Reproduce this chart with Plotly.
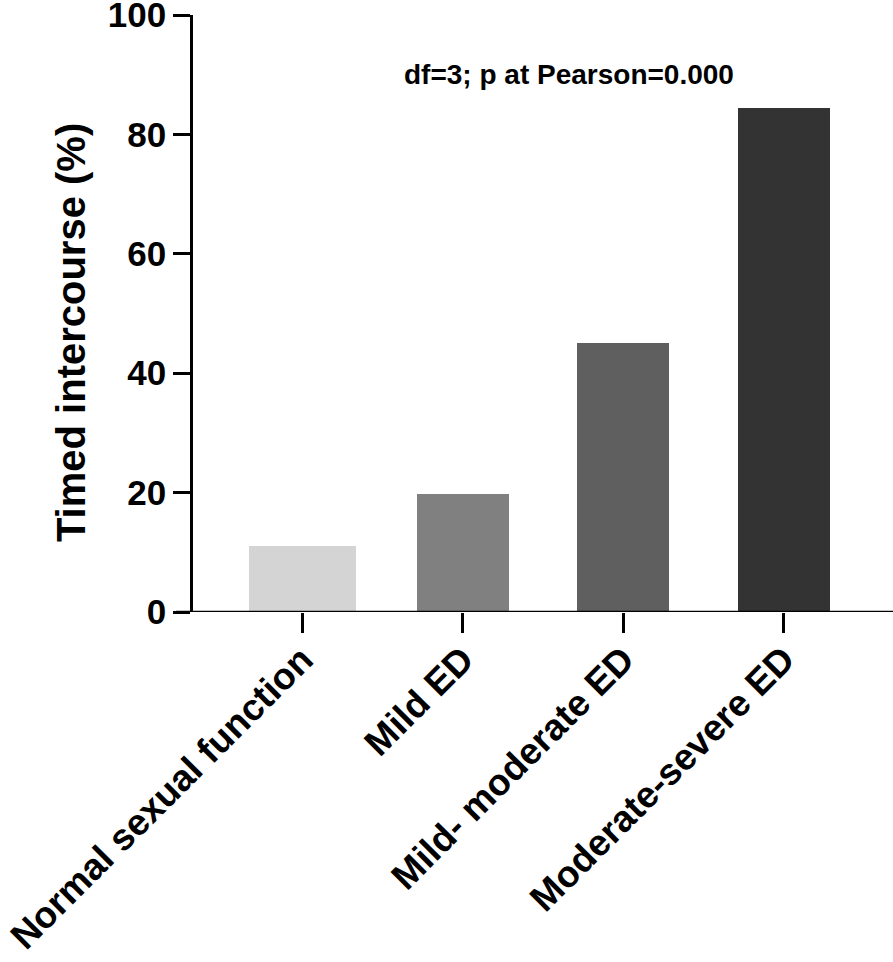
import plotly.graph_objects as go

categories = ["Normal sexual function", "Mild ED", "Mild- moderate ED", "Moderate-severe ED"]
values = [11.1, 19.8, 45.0, 84.4]
colors = ["#d4d4d4", "#808080", "#5f5f5f", "#333333"]
bar_widths = [0.667, 0.573, 0.573, 0.573]
y_ticks = [0, 20, 40, 60, 80, 100]
y_title = "Timed intercourse (%)"
annotation_text = "df=3; p at Pearson=0.000"

FONT = "Liberation Sans, Arial, sans-serif"

fig = go.Figure()
fig.add_trace(go.Bar(
    x=list(range(len(categories))),
    y=values,
    width=bar_widths,
    marker=dict(color=colors, line=dict(width=0)),
))

fig.update_layout(
    width=893, height=962,
    margin=dict(l=193, r=0, t=15, b=350),
    plot_bgcolor="white", paper_bgcolor="white",
    showlegend=False,
    font=dict(family=FONT, color="black"),
    bargap=0,
)

fig.update_xaxes(
    range=[-0.68, 3.68],
    tickmode="array",
    tickvals=list(range(len(categories))),
    ticktext=categories,
    tickangle=-45,
    tickfont=dict(family=FONT, size=37, weight="bold", color="black"),
    ticks="outside", ticklen=20, tickwidth=2.5, tickcolor="black",
    ticklabelstandoff=-10,
    showline=False, showgrid=False, zeroline=False,
    ticklabeloverflow="allow",
    automargin=False,
)

fig.update_yaxes(
    range=[0, 100],
    tickmode="array",
    tickvals=y_ticks,
    tickfont=dict(family=FONT, size=35, weight="bold", color="black"),
    ticks="outside", ticklen=17, tickwidth=2.5, tickcolor="black",
    showline=True, linewidth=2.5, linecolor="black",
    showgrid=False, zeroline=False,
    ticklabeloverflow="allow",
    automargin=False,
)

# y-axis title placed as rotated text
fig.add_annotation(
    x=(70.5 - 193) / 700, y=0.468, xref="paper", yref="paper",
    xanchor="center", yanchor="middle",
    text=y_title, textangle=-90, showarrow=False,
    font=dict(family=FONT, size=40, weight="bold", color="black"),
)

# x-axis baseline extending left past the y axis (GraphPad style)
fig.add_shape(type="line", xref="paper", yref="y", x0=-17/700, x1=1, y0=0, y1=0,
              line=dict(color="black", width=2.5))

fig.add_annotation(
    x=1.66, y=90, xref="x", yref="y",
    text=annotation_text, showarrow=False,
    font=dict(family=FONT, size=28, weight="bold", color="black"),
)

fig.write_html("out.html", config={"displayModeBar": False},
               post_script="document.body.style.margin='0px';")
